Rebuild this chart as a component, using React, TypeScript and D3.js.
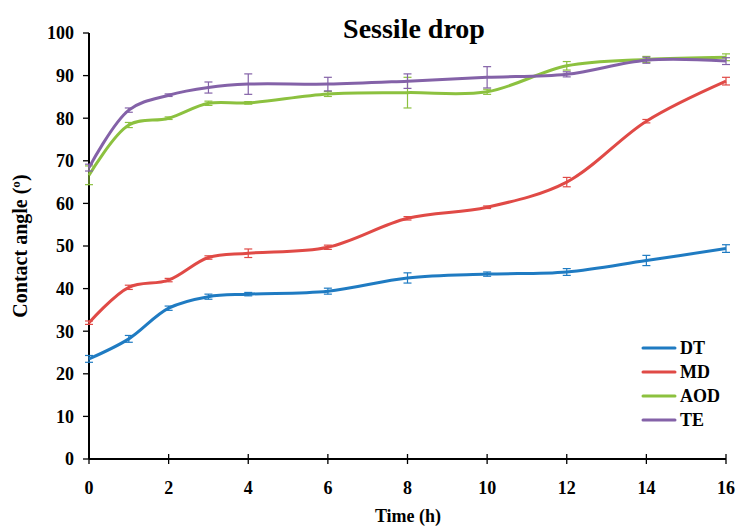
import React from "react";
import * as d3 from "d3";

// Time points (h)
const hours = [0, 1, 2, 3, 4, 6, 8, 10, 12, 14, 16];

// Mean contact angle per sample
const dtValues = [23.5, 28.2, 35.4, 38.1, 38.7, 39.4, 42.5, 43.4, 43.9, 46.6, 49.4];
const mdValues = [32.0, 40.3, 42.0, 47.3, 48.3, 49.7, 56.5, 59.1, 65.0, 79.3, 88.7];
const aodValues = [66.6, 78.4, 80.0, 83.5, 83.6, 85.7, 86.0, 86.2, 92.3, 93.8, 94.3];
const teValues = [68.4, 81.9, 85.4, 87.2, 88.0, 88.0, 88.7, 89.6, 90.3, 93.6, 93.4];

// Error bar half-widths
const dtErrors = [0.8, 0.8, 0.5, 0.6, 0.4, 0.7, 1.2, 0.5, 0.8, 1.2, 0.9];
const mdErrors = [0.4, 0.5, 0.4, 0.4, 1.0, 0.5, 0.4, 0.3, 1.1, 0.4, 0.9];
const aodErrors = [2.2, 0.6, 0.3, 0.5, 0.3, 0.6, 3.6, 0.6, 1.0, 0.7, 0.8];
const teErrors = [0.8, 0.5, 0.3, 1.3, 2.4, 1.6, 1.7, 2.5, 0.6, 0.7, 0.8];

const seriesNames = ["DT", "MD", "AOD", "TE"];
const seriesColors = ["#1f7bc2", "#e04a46", "#8cc13f", "#8462a8"];

const xTicks = [0, 2, 4, 6, 8, 10, 12, 14, 16];
const yTicks = [0, 10, 20, 30, 40, 50, 60, 70, 80, 90, 100];

const W = 737;
const H = 531;
const font = "'Liberation Serif', 'Times New Roman', serif";

export default function App() {
  const x = d3.scaleLinear().domain([0, 16]).range([89, 726]);
  const y = d3.scaleLinear().domain([0, 100]).range([459, 33]);

  const all = [
    { name: seriesNames[0], values: dtValues, errors: dtErrors, color: seriesColors[0] },
    { name: seriesNames[1], values: mdValues, errors: mdErrors, color: seriesColors[1] },
    { name: seriesNames[2], values: aodValues, errors: aodErrors, color: seriesColors[2] },
    { name: seriesNames[3], values: teValues, errors: teErrors, color: seriesColors[3] },
  ];

  const line = d3
    .line<[number, number]>()
    .x(d => x(d[0]))
    .y(d => y(d[1]))
    .curve(d3.curveCatmullRom.alpha(0.5));

  const txt = { fontFamily: font, fontWeight: "bold" as const };

  return (
    <svg
      width={W}
      height={H}
      style={{ position: "absolute", left: 0, top: 0, background: "#fff" }}
    >
      {/* title */}
      <text x={414} y={38} textAnchor="middle" fontSize={28} style={txt}>
        Sessile drop
      </text>

      {/* y axis */}
      <line x1={89} x2={89} y1={y(100)} y2={y(0)} stroke="#000" strokeWidth={2} />
      {yTicks.map(t => (
        <g key={"y" + t}>
          <line x1={83} x2={89} y1={y(t)} y2={y(t)} stroke="#000" strokeWidth={1.3} />
          <text x={74} y={y(t)} dy="0.35em" textAnchor="end" fontSize={18} style={txt}>
            {t}
          </text>
        </g>
      ))}

      {/* x axis */}
      <line x1={x(0)} x2={x(16)} y1={459} y2={459} stroke="#000" strokeWidth={2} />
      {xTicks.map(t => (
        <g key={"x" + t}>
          <line x1={x(t)} x2={x(t)} y1={454} y2={464} stroke="#000" strokeWidth={1.3} />
          <text x={x(t)} y={494} textAnchor="middle" fontSize={18} style={txt}>
            {t}
          </text>
        </g>
      ))}

      <text x={408} y={522} textAnchor="middle" fontSize={18} style={txt}>
        Time (h)
      </text>
      <text
        transform={`translate(27,246) rotate(-90)`}
        textAnchor="middle"
        fontSize={20}
        style={txt}
      >
        Contact angle (º)
      </text>

      {/* series */}
      {all.map(s => (
        <g key={s.name}>
          <path
            d={line(hours.map((h, i) => [h, s.values[i]] as [number, number])) || ""}
            fill="none"
            stroke={s.color}
            strokeWidth={3}
          />
          {hours.map((h, i) => {
            const cx = x(h);
            const top = y(s.values[i] + s.errors[i]);
            const bot = y(s.values[i] - s.errors[i]);
            return (
              <g key={i} stroke={s.color} strokeWidth={1.2}>
                <line x1={cx} x2={cx} y1={top} y2={bot} />
                <line x1={cx - 4} x2={cx + 4} y1={top} y2={top} />
                <line x1={cx - 4} x2={cx + 4} y1={bot} y2={bot} />
              </g>
            );
          })}
        </g>
      ))}

      {/* legend */}
      {all.map((s, i) => (
        <g key={"lg" + s.name} transform={`translate(643,${348 + i * 24})`}>
          <line x1={0} x2={32} y1={0} y2={0} stroke={s.color} strokeWidth={3} strokeLinecap="round" />
          <text x={37} y={0} dy="0.35em" fontSize={18} style={txt}>
            {s.name}
          </text>
        </g>
      ))}
    </svg>
  );
}
